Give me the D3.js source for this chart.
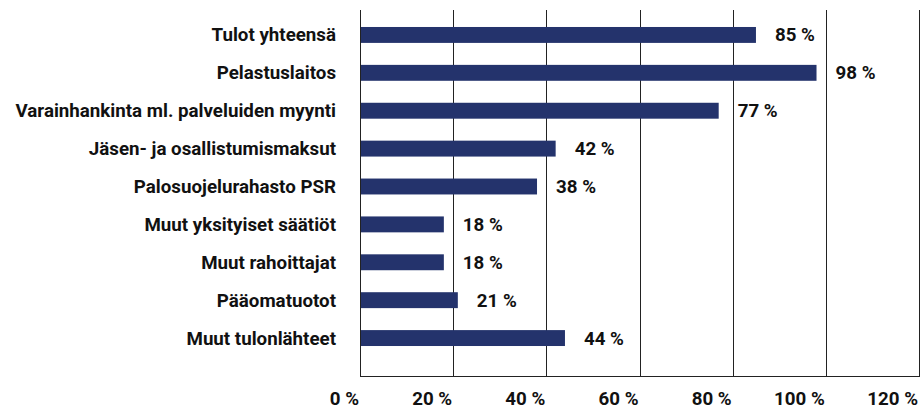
<!DOCTYPE html>
<html>
<head>
<meta charset="utf-8">
<style>
	body { margin: 0; background: #fff; }
	svg text { font-family: Roboto, "Noto Sans", sans-serif; font-weight: 700; fill: #111; }
</style>
</head>
<body>
<div id="chart"></div>
<script src="https://cdn.jsdelivr.net/npm/d3@7"></script>
<script>
	var categories = ['Tulot yhteensä', 'Pelastuslaitos', 'Varainhankinta ml. palveluiden myynti',
		'Jäsen- ja osallistumismaksut', 'Palosuojelurahasto PSR', 'Muut yksityiset säätiöt',
		'Muut rahoittajat', 'Pääomatuotot', 'Muut tulonlähteet'];
	var values = [85, 98, 77, 42, 38, 18, 18, 21, 44];
	var ticks = [0, 20, 40, 60, 80, 100, 120];

	var W = 921, H = 409;
	var plot = { left: 360, right: 919, top: 10, bottom: 376 };
	var squeeze = 1.04; // horizontal scale of the text

	var svg = d3.select('#chart').append('svg')
		.attr('width', W)
		.attr('height', H);

	var x = d3.scaleLinear().domain([0, 120]).range([plot.left, plot.right]);
	var y = d3.scaleBand().domain(categories).range([16, 357]).paddingInner(0.58).paddingOuter(0.29);

	// vertical gridlines
	svg.append('g').selectAll('line')
		.data(ticks)
		.enter().append('line')
		.attr('x1', d => Math.round(x(d)) + 0.5)
		.attr('x2', d => Math.round(x(d)) + 0.5)
		.attr('y1', plot.top)
		.attr('y2', plot.bottom)
		.attr('stroke', '#222')
		.attr('stroke-width', 1);

	// bottom line
	svg.append('line')
		.attr('x1', plot.left)
		.attr('x2', plot.right + 1)
		.attr('y1', plot.bottom + 0.5)
		.attr('y2', plot.bottom + 0.5)
		.attr('stroke', '#222');

	// bars
	svg.append('g').selectAll('rect')
		.data(values)
		.enter().append('rect')
		.attr('x', x(0) + 1)
		.attr('y', (d, i) => y(categories[i]))
		.attr('width', d => x(d) - x(0) - 1)
		.attr('height', y.bandwidth())
		.attr('fill', '#24336c');

	function squeezed(sel, px, py) {
		sel.attr('transform', (d, i) => 'translate(' + px(d, i) + ',' + py(d, i) + ') scale(' + squeeze + ',1)');
	}

	// value labels
	svg.append('g').selectAll('text')
		.data(values)
		.enter().append('text')
		.text(d => d + ' %')
		.attr('font-size', 18)
		.attr('dy', '0.36em')
		.call(squeezed, d => x(d) + 19, (d, i) => y(categories[i]) + y.bandwidth() / 2);

	// category labels
	svg.append('g').selectAll('text')
		.data(categories)
		.enter().append('text')
		.text(d => d)
		.attr('font-size', 18)
		.attr('text-anchor', 'end')
		.attr('dy', '0.36em')
		.call(squeezed, d => 336, d => y(d) + y.bandwidth() / 2);

	// x tick labels
	svg.append('g').selectAll('text')
		.data(ticks)
		.enter().append('text')
		.text(d => d + ' %')
		.attr('font-size', 18)
		.attr('text-anchor', 'end')
		.attr('dy', '0.36em')
		.call(squeezed, d => x(d) - 1, d => 399);
</script>
</body>
</html>
